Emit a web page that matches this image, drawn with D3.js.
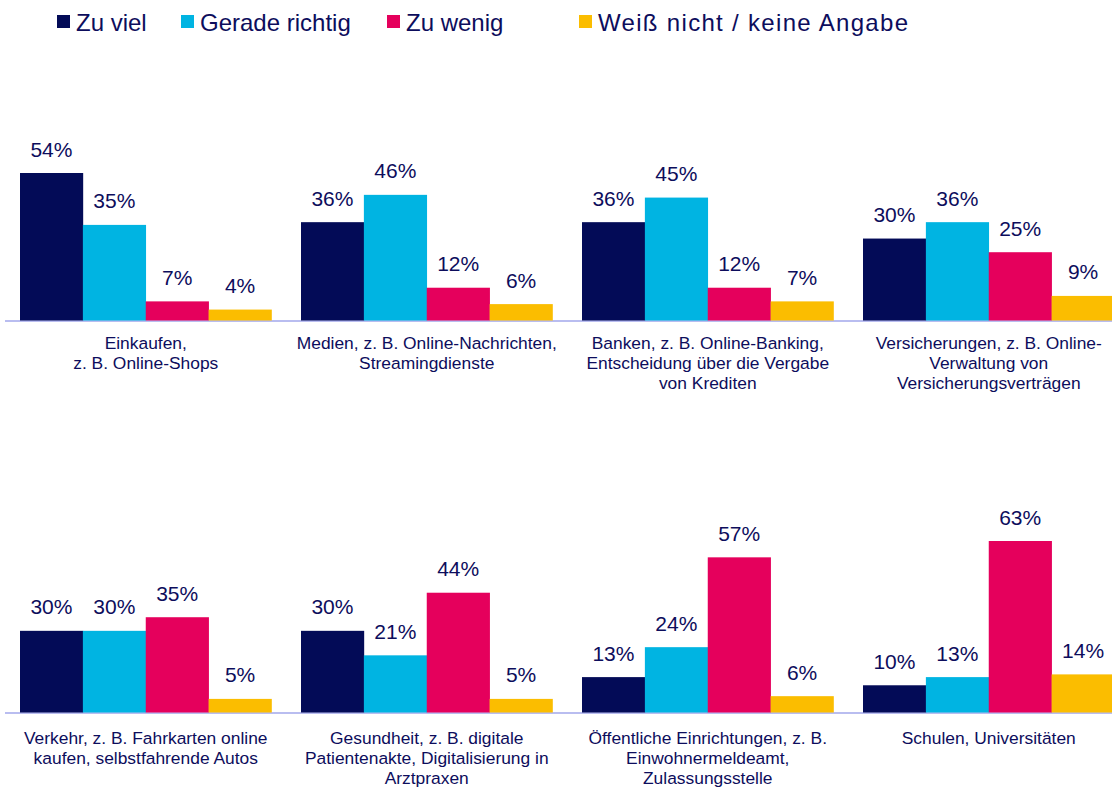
<!DOCTYPE html>
<html>
<head>
<meta charset="utf-8">
<script src="https://cdn.jsdelivr.net/npm/d3@7"></script>
<style>
  body { margin: 0; background: #fff; }
  svg { display: block; font-family: "Liberation Sans", Arial, sans-serif; }
</style>
</head>
<body>
<svg id="chart" width="1112" height="787"></svg>
<script>
// Series names and colours
const series = ['Zu viel', 'Gerade richtig', 'Zu wenig', 'Weiß nicht / keine Angabe']
const colors = ['#030b57', '#00b4e2', '#e5005c', '#fbbd00']

// Category labels (already broken into lines)
const categories = [
  ['Einkaufen,', 'z. B. Online-Shops'],
  ['Medien, z. B. Online-Nachrichten,', 'Streamingdienste'],
  ['Banken, z. B. Online-Banking,', 'Entscheidung über die Vergabe', 'von Krediten'],
  ['Versicherungen, z. B. Online-', 'Verwaltung von', 'Versicherungsverträgen'],
  ['Verkehr, z. B. Fahrkarten online', 'kaufen, selbstfahrende Autos'],
  ['Gesundheit, z. B. digitale', 'Patientenakte, Digitalisierung in', 'Arztpraxen'],
  ['Öffentliche Einrichtungen, z. B.', 'Einwohnermeldeamt,', 'Zulassungsstelle'],
  ['Schulen, Universitäten']
]

// Values per series, one per category
const zuViel = [54, 36, 36, 30, 30, 30, 13, 10]
const geradeRichtig = [35, 46, 45, 36, 30, 21, 24, 13]
const zuWenig = [7, 12, 12, 25, 35, 44, 57, 63]
const weissNicht = [4, 6, 7, 9, 5, 5, 6, 14]
const values = [zuViel, geradeRichtig, zuWenig, weissNicht]

const text_color = '#0d0d5c'
const svg = d3.select('#chart')

// Legend
const legend_x = [57, 181, 387, 579]
const legend = svg.append('g')
series.forEach((s, i) => {
  let g = legend.append('g').attr('transform', `translate(${legend_x[i]},0)`)
  g.append('rect')
    .attr('x', 0).attr('y', 15)
    .attr('width', 13).attr('height', 13)
    .attr('fill', colors[i])
  let t = g.append('text')
    .attr('x', 19).attr('y', 31)
    .attr('fill', text_color)
    .style('font-size', '24px')
    .text(s)
  // the last entry is drawn wider in the original
  if (i == 3) t.attr('textLength', 310).attr('lengthAdjust', 'spacing')
})

// Layout of panels
const panel_step = 281
const panel_w = 251.5
const rows = [
  { base: 320.5, top: 173, label_y: 349 },
  { base: 712.5, top: 541, label_y: 744 }
]

const x_inner = d3.scaleBand().domain(d3.range(4)).range([0, panel_w]).padding(0)

rows.forEach((row, r) => {
  const y = d3.scaleLinear().domain([0, r == 0 ? 54 : 63]).range([row.base, row.top])

  // baseline
  svg.append('line')
    .attr('x1', 5).attr('x2', 1112)
    .attr('y1', row.base + 0.5).attr('y2', row.base + 0.5)
    .attr('stroke', '#b9bdf0')
    .attr('stroke-width', 2)

  for (let c = 0; c < 4; c++) {
    const idx = r * 4 + c
    const px = 20 + c * panel_step
    const g = svg.append('g').attr('transform', `translate(${px},0)`)

    const bars = values.map((v, s) => ({ s: s, v: v[idx] }))

    g.selectAll('rect')
      .data(bars)
      .join('rect')
      .attr('x', d => x_inner(d.s))
      .attr('width', x_inner.bandwidth() + 0.3)
      .attr('y', d => y(d.v))
      .attr('height', d => row.base - y(d.v))
      .attr('fill', d => colors[d.s])

    g.selectAll('text.val')
      .data(bars)
      .join('text')
      .attr('class', 'val')
      .attr('x', d => x_inner(d.s) + x_inner.bandwidth() / 2)
      .attr('y', d => y(d.v) - 16.5)
      .attr('text-anchor', 'middle')
      .attr('fill', text_color)
      .style('font-size', '21px')
      .text(d => d.v + '%')

    // Category label
    const lbl = g.append('text')
      .attr('text-anchor', 'middle')
      .attr('fill', text_color)
      .style('font-size', '17.4px')
    categories[idx].forEach((line, k) => {
      lbl.append('tspan')
        .attr('x', panel_w / 2)
        .attr('y', row.label_y + k * 20)
        .text(line)
    })
  }
})
</script>
</body>
</html>
